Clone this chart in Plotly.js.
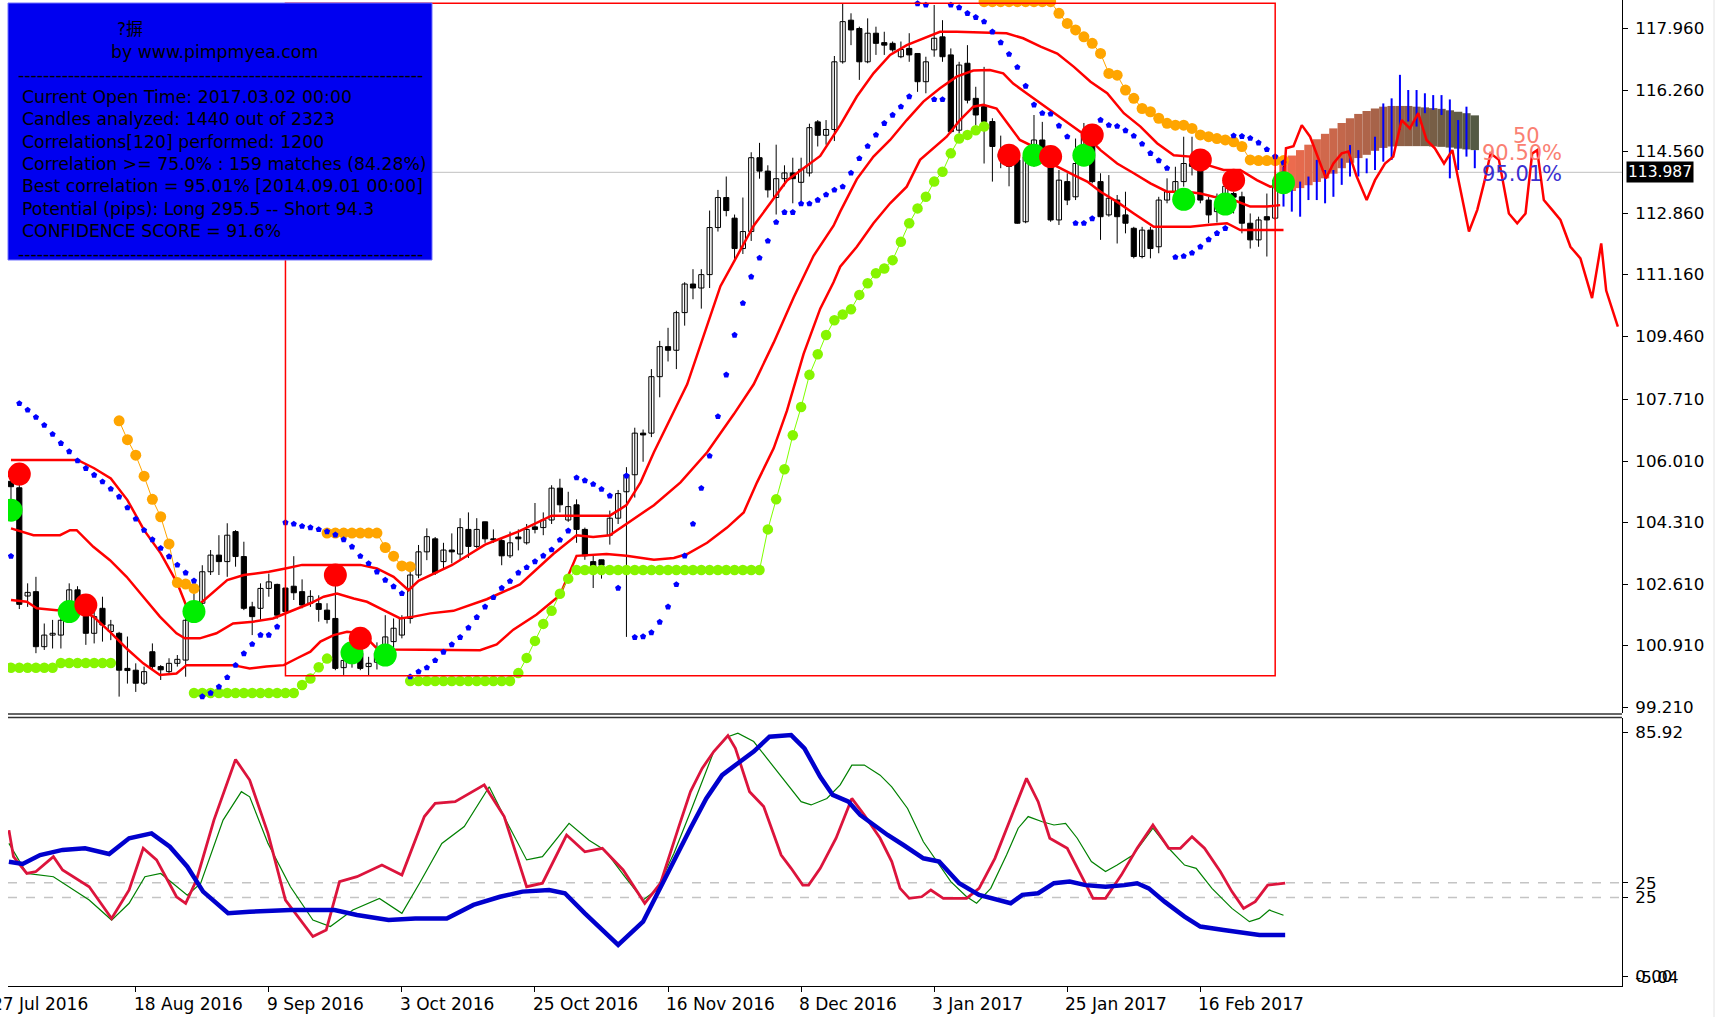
<!DOCTYPE html>
<html><head><meta charset="utf-8">
<script src="https://cdn.plot.ly/plotly-3.0.1.min.js"></script>
<style>html,body{margin:0;padding:0;background:#fff;}#chart{width:1719px;height:1017px;}</style>
</head><body><div id="chart"></div>
<script>
// ---------- DATA (USDJPY daily, bar index 0 = 27 Jul 2016) ----------
const openP = [104.70,105.45,105.27,102.28,102.40,100.88,101.20,101.20,101.85,102.45,
101.75,101.25,101.94,101.30,101.25,100.28,100.23,99.87,100.74,100.33,
100.19,100.42,100.51,101.75,102.08,102.95,103.41,103.23,104.06,103.37,
101.98,101.94,102.49,102.60,102.50,102.55,102.40,102.08,102.07,101.89,
101.66,100.30,100.50,100.70,100.33,100.45,100.70,101.02,101.20,101.66,
102.86,103.50,103.86,103.23,103.55,103.44,104.12,103.65,104.33,103.86,
103.81,103.39,103.91,103.75,104.19,104.17,104.38,105.26,104.38,104.80,
104.12,103.23,103.28,103.96,104.43,105.16,105.63,106.78,106.78,108.34,
109.17,109.07,110.11,110.90,110.79,111.16,112.46,113.29,112.72,111.88,
112.35,114.39,114.02,113.29,113.81,113.97,113.71,113.97,115.38,115.01,
115.17,117.04,118.19,117.96,117.04,117.83,117.57,117.55,117.18,117.41,
117.27,116.49,117.37,117.73,117.23,115.15,117.00,116.03,115.80,115.39,
114.50,114.40,114.33,112.62,114.42,114.88,114.42,112.67,113.73,113.31,
114.45,114.88,113.73,112.81,113.22,112.81,112.44,111.66,112.39,111.93,
113.22,113.45,113.73,114.23,114.23,113.22,112.90,113.10,113.40,113.31,
112.58,112.12,112.76,112.72,113.75];
const highP = [106.10,105.60,105.60,102.63,102.81,101.52,101.62,101.89,102.63,102.55,
101.89,101.89,102.26,101.62,101.29,101.16,100.42,100.33,100.97,100.37,
100.56,100.65,101.98,102.35,103.13,103.55,103.96,104.29,104.10,103.78,
102.12,102.63,102.90,102.62,102.60,103.38,102.74,102.44,102.30,102.08,
102.79,100.88,101.20,101.00,100.60,101.00,101.75,101.66,101.75,102.95,
103.69,104.15,103.91,103.75,104.01,104.43,104.59,104.43,104.33,104.12,
103.91,104.06,104.12,104.27,104.85,104.59,105.34,105.52,105.16,104.95,
104.17,103.44,103.28,104.64,105.21,105.84,106.93,106.88,108.55,109.33,
109.69,110.16,110.95,111.31,111.31,112.93,113.50,113.87,112.82,113.29,
114.54,114.80,114.18,114.75,114.18,114.39,114.39,115.33,115.43,115.43,
117.20,118.66,118.38,118.01,118.24,118.01,117.87,117.60,117.60,117.83,
117.27,117.18,118.61,118.19,117.41,117.04,117.50,116.35,116.90,115.48,
115.00,114.55,114.42,114.51,115.57,115.38,114.51,114.05,113.96,114.92,
115.35,115.20,113.96,113.91,113.36,113.45,112.48,112.48,112.48,113.31,
113.82,114.14,114.97,114.97,114.33,113.31,113.40,113.80,113.45,113.45,
112.85,112.76,113.40,114.05,114.20];
const lowP = [104.55,104.65,101.92,101.98,100.70,100.79,100.83,100.83,101.70,101.80,
100.93,100.97,101.02,101.06,99.50,99.86,99.63,99.82,100.23,99.96,
100.10,100.33,100.05,101.55,101.71,102.86,102.86,102.81,103.09,101.89,
101.20,101.62,102.26,101.65,101.75,102.17,101.94,101.98,101.57,101.52,
100.23,100.10,100.30,100.23,100.08,100.25,100.60,100.83,101.11,101.52,
102.77,103.27,102.86,103.02,103.18,103.28,103.33,103.60,103.75,103.75,
103.13,103.33,103.54,103.70,104.01,103.96,104.27,104.59,104.33,103.75,
103.28,102.50,102.76,103.70,104.27,101.15,105.00,105.99,106.67,107.77,
108.76,108.55,109.75,110.48,110.22,110.79,112.35,112.77,111.52,111.73,
112.09,113.81,113.29,112.82,113.60,113.13,113.13,113.87,114.70,114.75,
114.85,116.99,117.50,116.54,117.00,117.23,117.23,117.32,117.14,117.04,
116.21,116.17,117.18,117.04,115.06,115.06,115.89,115.29,114.23,113.73,
114.10,113.60,112.57,112.58,114.14,114.33,112.62,112.53,113.08,113.22,
114.30,113.68,112.12,112.76,112.02,112.30,111.61,111.61,111.61,111.75,
113.13,113.13,113.59,113.90,113.13,112.58,112.60,112.90,112.85,112.30,
111.88,111.93,111.66,112.67,113.70];
const closeP = [105.45,105.30,102.05,102.38,100.88,101.20,101.25,101.61,102.45,101.95,
101.25,101.71,101.48,101.48,100.23,100.22,99.87,100.19,100.33,100.24,
100.42,100.53,101.61,102.05,102.95,103.41,103.23,103.96,103.37,101.94,
101.71,102.49,102.67,101.75,101.85,102.37,102.03,102.27,101.91,101.63,
100.28,100.50,100.99,100.28,100.42,100.70,101.15,101.39,101.66,102.86,
103.50,103.92,102.92,103.55,103.50,104.17,103.65,104.12,103.86,103.83,
103.39,103.75,103.86,104.12,104.12,104.38,105.26,104.80,104.75,104.12,
103.39,103.07,103.13,104.43,105.11,105.63,106.78,106.73,108.34,109.17,
109.07,110.11,110.90,110.79,111.16,112.46,113.29,112.93,111.88,112.35,
114.39,114.02,113.50,113.81,113.97,113.81,114.07,115.22,115.01,115.17,
117.04,118.15,117.92,117.04,117.83,117.55,117.50,117.37,117.38,117.23,
116.49,117.04,117.69,117.18,115.11,116.95,115.98,115.57,115.39,114.70,
114.40,114.15,112.58,114.42,114.88,114.50,112.67,113.77,113.22,114.23,
115.05,113.73,112.76,113.27,112.76,112.58,111.66,112.39,111.88,113.22,
113.45,113.73,114.23,114.15,113.22,112.81,113.10,113.60,113.30,112.58,
112.12,112.67,112.67,113.77,113.987];

const dateTickBars = [0,16,32,48,64,80,96,112,128,144];
const dateLabels = ['27 Jul 2016','18 Aug 2016','9 Sep 2016','3 Oct 2016','25 Oct 2016','16 Nov 2016','8 Dec 2016','3 Jan 2017','25 Jan 2017','16 Feb 2017'];
const priceTicks = [117.96,116.26,114.56,112.86,111.16,109.46,107.71,106.01,104.31,102.61,100.91,99.21];
const bidPrice = 113.987;
const windowStart = 34, windowEnd = 153;

const bandUpX = [1,9,11,13,15,17,19,21,22,23,24,27,29,32,34,36,43,45,47,48.8,50,54,58,62,66,73,75,76.7,78.3,82.3,86.3,90.3,94.3,98.3,100.7,102.7,104.7,106.7,108.7,110.7,112.7,114.7,116.7,118.7,120.7,122.7,124.8,126.8,128.8,130.8,132.8,134.8,136.8,138.8,140.8,142.8,144.8,146.8,148.8,150.8,152.4,153.6];
const bandUpY = [106.04,106.04,105.81,105.53,104.93,104.10,103.46,102.63,102.05,101.98,102.12,102.72,102.86,102.95,103.04,103.14,103.14,103.04,102.81,102.44,102.70,103.13,103.70,104.06,104.50,104.50,104.79,105.42,106.25,108.13,110.84,112.51,113.76,114.44,115.29,116.08,116.72,117.23,117.50,117.69,117.87,117.87,117.85,117.83,117.83,117.69,117.46,117.27,116.90,116.49,116.17,115.62,115.25,114.79,114.46,114.42,114.19,114.05,114.05,113.77,113.59,113.63];
const bandMidX = [1,3.7,6.9,8.1,8.9,10.9,12.9,14.9,16.9,18.9,20.9,21.9,23.7,25.7,27.7,30.1,32.5,34.6,37,38.6,40.2,42.2,43.8,45.8,47.8,49.4,51.4,54.2,58.2,62.2,66.2,69,71,73,75,78.3,81.5,84.7,87.9,90.3,92.7,95.1,97.5,99.9,100.7,102.7,104.7,106.7,108.7,110.7,112.7,114.7,116.7,118.7,120.3,121.5,123.1,124.8,126.4,128.8,130.4,132,134,136,138,140,142.4,144,145.6,148,150,152,153.6];
const bandMidY = [104.15,103.96,103.96,104.10,104.10,103.64,103.27,102.81,102.26,101.71,101.25,101.11,101.11,101.25,101.52,101.57,101.66,101.85,102.08,102.26,102.35,102.21,102.12,101.89,101.66,101.71,101.80,101.87,102.19,102.60,103.44,103.96,103.91,103.96,104.27,104.79,105.42,106.25,107.30,108.13,109.28,110.53,111.68,112.51,112.90,113.80,114.42,114.88,115.43,115.94,116.31,116.63,116.80,116.81,116.72,116.44,116.17,115.89,115.62,115.25,114.97,114.60,114.23,113.96,113.68,113.45,113.45,113.40,113.31,113.22,113.04,113.04,113.08];
const bandLowX = [1,2.9,4.1,6.5,8.9,10.9,12.9,14.9,16.9,18.9,20.9,22.1,27.7,29.7,31.7,33.8,35.4,37,38.2,39.8,41.4,43,43.8,45,47,51.4,57.4,59.4,61.4,64.2,67,69,72.6,75,78.3,80.7,82.3,84.7,87.1,89.1,90.7,92.7,94.3,96.3,98.3,99.9,100.7,102.7,104.7,106.7,108.7,110.3,111.9,113.5,115.1,116.7,117.9,119.5,121.1,122.3,124,126.4,128.8,130.4,132,134,136,138.4,140.8,142.8,144.8,147.2,148.8,154];
const bandLowY = [102.17,102.12,101.94,101.89,101.94,101.71,101.29,100.83,100.42,100.10,100.14,100.37,100.37,100.28,100.33,100.37,100.56,100.74,101.02,101.20,101.29,101.25,101.11,100.83,100.80,100.80,100.78,100.94,101.35,101.77,102.30,103.39,103.44,103.39,103.28,103.33,103.44,103.75,104.17,104.59,105.42,106.36,107.40,108.97,110.22,110.95,111.38,111.93,112.58,113.13,113.59,114.33,114.65,114.97,115.43,115.80,115.85,115.75,115.25,114.88,114.69,114.19,113.91,113.73,113.45,113.17,112.85,112.48,112.48,112.48,112.53,112.58,112.39,112.39];

const sarP = [103.10,103.38,107.60,107.42,107.22,107.00,106.75,106.50,106.27,106.02,
105.81,105.62,105.44,105.24,105.02,104.72,104.41,104.10,103.84,103.60,
103.37,103.14,102.92,102.70,99.50,99.60,99.77,100.03,100.37,100.69,
100.95,101.20,101.20,101.43,104.31,104.27,104.21,104.17,104.12,104.06,
103.97,103.84,103.64,103.38,103.18,102.95,102.72,102.54,102.35,100.05,
100.19,100.30,100.50,100.73,100.94,101.14,101.40,101.69,101.98,102.24,
102.50,102.69,102.92,103.07,103.23,103.39,103.56,103.83,104.08,105.55,
105.47,105.37,105.23,105.05,102.50,105.60,101.14,101.16,101.27,101.56,
101.98,102.60,103.39,104.27,105.26,106.15,107.24,108.39,109.49,110.37,
111.10,111.62,112.09,112.61,112.88,112.88,113.12,113.12,113.22,113.37,
113.50,113.59,113.97,114.37,114.71,115.02,115.34,115.57,115.80,116.08,
118.65,118.61,116.00,116.00,118.61,118.54,118.38,118.27,118.15,117.87,
117.57,117.25,116.89,116.37,115.85,115.62,115.60,115.27,114.97,112.58,
112.58,112.71,115.43,115.29,115.26,115.14,114.99,114.77,114.51,114.31,
114.10,111.64,111.67,111.76,111.93,112.13,112.30,112.44,115.00,114.98,
114.93,114.80,114.62,114.42,114.25];

const limeStop = [100.30,100.30,100.30,100.30,100.30,100.30,100.30,100.43,100.43,100.43,
100.43,100.43,100.43,100.43,null,null,null,null,null,null,
null,null,null,99.60,99.60,99.60,99.60,99.60,99.60,99.60,
99.60,99.60,99.60,99.60,99.60,99.60,99.82,100.00,100.31,100.55,
null,null,null,null,null,null,null,null,null,99.93,
99.93,99.93,99.93,99.93,99.93,99.93,99.93,99.93,99.93,99.93,
99.93,99.93,100.15,100.57,101.04,101.51,101.87,102.34,102.76,103.00,
103.00,103.00,103.00,103.00,103.00,103.00,103.00,103.00,103.00,103.00,
103.00,103.00,103.00,103.00,103.00,103.00,103.00,103.00,103.00,103.00,
103.00,103.00,104.12,104.95,105.78,106.72,107.50,108.39,108.96,109.49,
109.90,110.06,110.20,110.60,110.92,111.20,111.33,111.56,112.07,112.58,
112.99,113.31,113.73,114.00,114.51,114.92,115.02,115.15,115.25,null,
null,null,null,null,null,null,null,null,null,null,
null,null,null,null,null,null,null,null,null,null,
null,null,null,null,null,null,null,null,null,null,
null,null,null,null,null];
const orangeStop = [null,null,null,null,null,null,null,null,null,null,
null,null,null,null,107.12,106.60,106.17,105.59,104.95,104.47,
103.72,102.65,102.61,102.49,null,null,null,null,null,null,
null,null,null,null,null,null,null,null,null,104.02,
104.02,104.02,104.02,104.02,104.02,104.02,103.62,103.38,103.11,103.09,
null,null,null,null,null,null,null,null,null,null,
null,null,null,null,null,null,null,null,null,null,
null,null,null,null,null,null,null,null,null,null,
null,null,null,null,null,null,null,null,null,null,
null,null,null,null,null,null,null,null,null,null,
null,null,null,null,null,null,null,null,null,null,
null,null,null,null,null,null,null,null,118.70,118.70,
118.70,118.70,118.70,118.70,118.70,118.70,118.70,118.38,118.10,117.92,
117.73,117.55,117.27,116.72,116.67,116.26,116.03,115.75,115.66,115.48,
115.34,115.29,115.29,115.20,115.02,114.97,114.92,114.88,114.83,114.70,
114.33,114.31,114.31,114.31,114.31];

const sigRedX = [2,10,40,43,121,126,131,144,148];
const sigRedY = [105.65,102.03,102.86,101.11,114.46,114.42,115.02,114.33,113.77];
const sigGreenX = [1,8,23,42,46,124,130,142,147,154];
const sigGreenY = [104.65,101.85,101.85,100.71,100.65,114.46,114.46,113.24,113.11,113.70];

const projBarX = [154,155,156,157,158,159,160,161,162,163,164,165,166,167,168,169,170,171,172,173,174,175,176,177];
const projBarHi = [114.14,113.68,113.73,113.87,114.33,114.05,114.05,114.37,114.74,114.60,114.37,114.97,115.89,116.03,116.68,116.26,116.26,116.17,116.12,116.12,116.00,115.43,115.80,114.60];
const projBarLo = [113.04,112.90,112.76,113.22,113.22,113.13,113.31,113.64,113.87,113.87,113.96,114.05,114.28,114.33,115.16,115.39,115.25,115.62,115.71,115.57,113.82,114.05,114.42,114.10];
const projBandHi = [114.33,114.45,114.60,114.75,114.90,115.05,115.20,115.35,115.48,115.60,115.68,115.75,115.80,115.82,115.82,115.82,115.80,115.78,115.76,115.74,115.70,115.66,115.62,115.56];
const projBandLo = [113.40,113.47,113.55,113.63,113.72,113.82,113.95,114.10,114.25,114.38,114.47,114.58,114.66,114.70,114.71,114.71,114.71,114.71,114.70,114.69,114.67,114.64,114.62,114.60];
const projLineX = [154,154.3,155.2,156.2,157.2,158.2,159.1,160,161,161.8,162.8,164,165,166.2,167.2,168.2,169.2,170.2,171.2,172.2,173.3,174.3,175.3,176.3,177.3,178.1,178.9,179.9,181.1,182.1,183.1,183.9,184.5,185.3,186.3,187.3,188.5,189.7,191.1,192.2,192.8,194.2];
const projLineY = [113.62,114.65,114.71,115.29,114.97,114.37,113.82,114.23,114.51,114.56,113.87,113.22,113.77,114.23,114.42,115.43,115.20,115.62,114.88,114.65,114.23,114.60,113.50,112.35,112.95,113.68,114.51,114.33,112.85,112.58,112.85,114.51,114.60,113.22,112.95,112.67,111.93,111.61,110.51,112.02,110.72,109.72];

const lowRedX = [0.75,1.3,2.9,4.0,6.1,7.2,10.4,13.1,15.2,16.9,18.5,20.9,22,23.3,25.4,28.0,29.7,31.9,34.0,37.3,38.9,40.5,42.6,45.6,48,50.7,52,54.4,57.9,60.3,63,64.9,67.8,70,72.1,74.6,77.2,79.1,81.3,82.7,84.1,85.5,87.2,88.1,89.8,91.5,93.6,94.8,96.2,96.9,98.3,100.2,102.1,103.6,105.5,106.9,107.9,109.0,110.5,111.6,113.1,115.9,117.4,119.3,121.2,123.1,124.5,125.9,128.0,129.7,131.1,132.6,134.5,136.4,138.3,140.2,141.6,143.0,144.5,146.4,147.8,149.2,150.6,152.1,154.2];
const lowRedY = [49.7,39.9,33.7,34.4,39.9,35.0,28.8,17.1,27.6,43.0,38.7,25.1,22.7,31.3,53.4,75.8,68.2,48.5,23.9,10.4,12.8,30.7,32.5,36.8,33.1,54.7,59.6,60.2,66.4,54.7,28.8,30.1,47.9,41.7,43.0,35.0,22.7,30.1,51.0,63.9,72.5,78.7,84.6,79.9,63.9,58.4,40.5,35.6,29.4,29.4,35.6,46.7,61.4,55.3,46.7,38.1,28.2,24.5,25.1,27.6,24.5,24.5,28.2,39.3,54.1,68.8,60.2,46.7,43.0,33.1,24.5,24.5,33.1,43.0,51.6,43.0,43.0,47.3,43.0,34.4,27.0,20.8,23.3,29.4,30.1];
const lowGreenX = [0.75,2.9,6.1,10.4,13.1,15.2,17.1,19.0,22.2,23.8,26.5,28.7,29.7,31.9,34.6,37.3,39.4,42.1,45.3,48,50.1,52.8,55.5,58.5,60.9,63.0,64.9,68.1,70.5,72.4,74.8,77.0,78.6,80.7,82.7,84.1,85.5,87.2,88.4,90.3,92.2,94.1,96.0,97.2,99.1,100.7,102.1,103.6,105.5,106.9,108.8,110.7,112.1,114.0,115.9,117.1,118.8,120.7,122.1,123.3,125.0,126.4,127.8,129.2,130.9,132.6,134.0,135.9,138.3,140.2,142.1,143.5,145.4,147.8,149.9,151.1,152.3,154.0];
const lowGreenY = [44.8,33.7,32.5,23.9,16.5,22.7,32.5,33.7,25.7,30.0,53.4,63.9,62.0,44.8,28.8,16.5,14.1,20.2,24.5,19.0,30.0,44.8,51.0,65.7,51.0,38.7,39.9,52.2,46.0,42.3,32.5,23.9,27.6,41.1,56.5,67.6,78.7,84.2,85.5,82.4,75.0,67.6,60.2,59.0,61.4,66.4,73.7,73.7,70.0,65.7,57.7,45.4,39.3,30.7,25.1,22.7,28.2,40.5,50.4,54.7,52.8,51.6,52.2,46.7,38.1,34.4,36.8,40.5,50.4,43.0,36.8,35.6,28.2,20.8,15.9,17.1,20.2,18.3];
const lowBlueX = [0.75,2.4,4.5,7.2,9.9,12.8,15.2,17.9,20.1,22.2,24.1,27.1,29.7,34.6,39.9,42.6,46.4,49.6,53.4,56.6,59.8,62.5,65.7,67.6,70.0,74.0,77.0,78.9,81.8,82.7,84.6,86.5,88.4,90.3,92.2,94.8,96.4,98.3,99.8,101.7,103.1,106.4,108.3,110.7,112.6,115.0,117.4,119.7,121.2,122.6,124.5,126.4,128.3,130.2,132.6,134.9,136.4,137.8,139.7,142.1,144.0,146.8,149.2,151.1,154.2];
const lowBlueY = [38.0,37.2,40.5,42.4,43.0,40.9,46.7,48.5,43.6,36.2,27.0,19.0,19.6,20.2,20.2,18.4,16.5,17.1,17.1,22.1,25.1,27.0,27.6,26.4,19.0,7.3,15.9,27.6,44.8,50.4,61.4,70.0,74.4,78.7,84.2,84.8,79.9,69.4,62.7,60.2,55.3,47.9,44.2,39.3,38.1,30.1,25.8,23.9,22.7,25.8,26.4,30.1,30.7,29.4,28.8,29.4,30.1,28.2,23.3,17.8,14.1,12.8,11.6,11.0,11.0];
const lowLevels = [30.3, 24.8];
const lowTickVals = [85.92, 30.3, 24.8, -4.3, -4.5];
const lowTickText = ['85.92','25','25','0.00','-5.04'];

const infoTitle = '?摒';
const infoSub = 'by www.pimpmyea.com';
const infoLines = ['Current Open Time: 2017.03.02 00:00','Candles analyzed: 1440 out of 2323','Correlations[120] performed: 1200','Correlation >= 75.0% : 159 matches (84.28%)','Best correlation = 95.01% [2014.09.01 00:00]','Potential (pips): Long 295.5 -- Short 94.3','CONFIDENCE SCORE = 91.6%'];
const projLabels = [{t:'50', y:115.00, c:'#FA8072', x:181.3},{t:'90.50%', y:114.53, c:'#FA8072', x:177.6},{t:'95.01%', y:113.93, c:'#3A2FD0', x:177.6}];

// ---------- GEOMETRY ----------
const W = 1719, H = 1017, ML = 8, MR = 97, MT = 0, MB = 31;
const PW = W - ML - MR, PH = H - MT - MB;
const px2x = p => (p - ML) / PW;
const py2y = p => 1 - (p - MT) / PH;
const bar2px = b => 2.7 + 8.315 * b;
const FONT = 'DejaVu Sans, Verdana, sans-serif';

const N = openP.length;
const traces = [];
const wx = [], wy = [];
for (let i = 0; i < N; i++) { wx.push(i, i, null); wy.push(lowP[i], highP[i], null); }
const gA = [243,108,78], gB = [84,90,68];
const bandColors = projBarX.map((_, k) => {
  const t = k / (projBarX.length - 1);
  return 'rgb(' + gA.map((a, j) => Math.round(a + (gB[j] - a) * t)).join(',') + ')';
});
traces.push({type:'bar', x:projBarX, base:projBandLo, y:projBandHi.map((h,k)=>h-projBandLo[k]), width:1,
  marker:{color:bandColors, line:{width:0}}, xaxis:'x', yaxis:'y', hoverinfo:'skip'});
traces.push({type:'scatter', mode:'lines', x:wx, y:wy, line:{color:'#000', width:1}, xaxis:'x', yaxis:'y', hoverinfo:'skip'});
const upX=[],upB=[],upH=[],dnX=[],dnB=[],dnH=[];
for (let i = 0; i < N; i++) {
  const b = Math.min(openP[i], closeP[i]);
  const h = Math.max(Math.abs(closeP[i] - openP[i]), 0.03);
  if (closeP[i] >= openP[i]) { upX.push(i); upB.push(b); upH.push(h); }
  else { dnX.push(i); dnB.push(b); dnH.push(h); }
}
traces.push({type:'bar', x:upX, base:upB, y:upH, width:0.62, marker:{color:'#fff', line:{color:'#000', width:1}}, xaxis:'x', yaxis:'y', hoverinfo:'skip'});
traces.push({type:'bar', x:dnX, base:dnB, y:dnH, width:0.62, marker:{color:'#000', line:{color:'#000', width:1}}, xaxis:'x', yaxis:'y', hoverinfo:'skip'});
[[bandUpX,bandUpY],[bandMidX,bandMidY],[bandLowX,bandLowY]].forEach(([x,y]) => {
  traces.push({type:'scatter', mode:'lines', x, y, line:{color:'#FF0000', width:2.5}, xaxis:'x', yaxis:'y', hoverinfo:'skip'});
});
const idx = openP.map((_, i) => i);
traces.push({type:'scatter', mode:'lines+markers', x:idx, y:limeStop, connectgaps:false,
  line:{color:'#7FFF00', width:1}, marker:{color:'#86F500', size:10.5}, xaxis:'x', yaxis:'y', hoverinfo:'skip'});
traces.push({type:'scatter', mode:'lines+markers', x:idx, y:orangeStop, connectgaps:false,
  line:{color:'#FFA500', width:1}, marker:{color:'#FFA500', size:11}, xaxis:'x', yaxis:'y', hoverinfo:'skip'});
traces.push({type:'scatter', mode:'markers', x:idx, y:sarP, marker:{color:'#0000FF', size:6.5, symbol:'pentagon'}, xaxis:'x', yaxis:'y', hoverinfo:'skip'});
const pbx = [], pby = [];
projBarX.forEach((x, k) => { pbx.push(x, x, null); pby.push(projBarLo[k], projBarHi[k], null); });
traces.push({type:'scatter', mode:'lines', x:pbx, y:pby, line:{color:'#0000FF', width:2}, xaxis:'x', yaxis:'y', hoverinfo:'skip'});
traces.push({type:'scatter', mode:'lines', x:projLineX, y:projLineY, line:{color:'#FF0000', width:2.5}, xaxis:'x', yaxis:'y', hoverinfo:'skip'});
traces.push({type:'scatter', mode:'markers', x:sigGreenX, y:sigGreenY, marker:{color:'#00EE00', size:23}, xaxis:'x', yaxis:'y', hoverinfo:'skip'});
traces.push({type:'scatter', mode:'markers', x:sigRedX, y:sigRedY, marker:{color:'#FF0000', size:23}, xaxis:'x', yaxis:'y', hoverinfo:'skip'});
traces.push({type:'scatter', mode:'lines', x:lowGreenX, y:lowGreenY, line:{color:'#008000', width:1.2}, xaxis:'x', yaxis:'y2', hoverinfo:'skip'});
traces.push({type:'scatter', mode:'lines', x:lowRedX, y:lowRedY, line:{color:'#DC143C', width:2.8}, xaxis:'x', yaxis:'y2', hoverinfo:'skip'});
traces.push({type:'scatter', mode:'lines', x:lowBlueX, y:lowBlueY, line:{color:'#0000CD', width:4.5}, xaxis:'x', yaxis:'y2', hoverinfo:'skip'});

// ---------- SHAPES ----------
let winHi = -Infinity, winLo = Infinity;
for (let i = windowStart; i <= windowEnd; i++) { winHi = Math.max(winHi, highP[i]); winLo = Math.min(winLo, lowP[i]); }
const shapes = [
  {type:'line', xref:'paper', yref:'y', x0:0, x1:1, y0:bidPrice, y1:bidPrice, line:{color:'#C0C0C0', width:1}, layer:'below'},
  {type:'rect', xref:'x', yref:'y', x0:windowStart, x1:windowEnd, y0:winLo, y1:winHi, line:{color:'#FF0000', width:1.5}, layer:'above'},
  {type:'rect', xref:'paper', yref:'paper', x0:px2x(8), x1:px2x(432), y0:py2y(260), y1:py2y(3), fillcolor:'#0000F0', line:{color:'#7070FF', width:1}, layer:'above'},
  {type:'line', xref:'paper', yref:'paper', x0:0, x1:1, y0:py2y(714), y1:py2y(714), line:{color:'#333', width:1.5}},
  {type:'line', xref:'paper', yref:'paper', x0:0, x1:1, y0:py2y(717.5), y1:py2y(717.5), line:{color:'#333', width:1.5}},
  {type:'line', xref:'paper', yref:'paper', x0:px2x(1714), x1:px2x(1714), y0:py2y(0), y1:py2y(1017), line:{color:'#E4E4E4', width:1}}
];
lowLevels.forEach(v => shapes.push({type:'line', xref:'paper', yref:'y2', x0:0, x1:1, y0:v, y1:v, line:{color:'#C4C4C4', width:1.5, dash:'dash'}, layer:'below'}));

// ---------- ANNOTATIONS ----------
const ann = [];
const tf = {family:FONT, size:17.3, color:'#000'};
ann.push({xref:'paper', yref:'paper', x:px2x(130), y:py2y(29), text:infoTitle, showarrow:false, xanchor:'center', yanchor:'middle', font:{family:'DejaVu Sans, Noto Sans CJK SC', size:17, color:'#000'}});
ann.push({xref:'paper', yref:'paper', x:px2x(214), y:py2y(52), text:infoSub, showarrow:false, xanchor:'center', yanchor:'middle', font:tf});
ann.push({xref:'paper', yref:'paper', x:px2x(16), y:py2y(75), text:'-'.repeat(65), showarrow:false, xanchor:'left', yanchor:'middle', font:tf});
infoLines.forEach((t, k) => ann.push({xref:'paper', yref:'paper', x:px2x(20), y:py2y(97 + k * 22.3), text:t, showarrow:false, xanchor:'left', yanchor:'middle', font:tf}));
ann.push({xref:'paper', yref:'paper', x:px2x(16), y:py2y(254), text:'-'.repeat(65), showarrow:false, xanchor:'left', yanchor:'middle', font:tf});
dateTickBars.forEach((b, k) => ann.push({xref:'paper', yref:'paper', x:px2x(bar2px(b) + (k === 0 ? -13 : -4)), y:py2y(1004), text:dateLabels[k], showarrow:false,
  xanchor:'left', yanchor:'middle', font:{family:FONT, size:17, color:'#000'}}));
projLabels.forEach(p => ann.push({xref:'x', yref:'y', x:p.x, y:p.y, text:p.t, showarrow:false, xanchor:'left', yanchor:'middle', font:{family:FONT, size:21, color:p.c}}));
ann.push({xref:'paper', yref:'y', x:1, y:bidPrice, text:bidPrice.toFixed(3), showarrow:false, xanchor:'left', yanchor:'middle', xshift:4,
  bgcolor:'#000', borderpad:1, font:{family:FONT, size:15.5, color:'#fff'}});

const layout = {
  width:W, height:H, margin:{l:ML, r:MR, t:MT, b:MB, pad:0},
  paper_bgcolor:'#fff', plot_bgcolor:'#fff', showlegend:false, barmode:'overlay', hovermode:false,
  font:{family:FONT, size:16, color:'#000'},
  xaxis:{range:[0.64,194.7], domain:[0,1], anchor:'y2', showgrid:false, zeroline:false, showline:true, linecolor:'#000', linewidth:1,
    ticks:'outside', ticklen:5, tickcolor:'#000', tickvals:dateTickBars, showticklabels:false, fixedrange:true},
  yaxis:{domain:[py2y(713),1], range:[99.0475,118.7475], side:'right', anchor:'x', showgrid:false, zeroline:false, showline:true,
    linecolor:'#000', linewidth:1, ticks:'outside', ticklen:5, tickcolor:'#000', tickvals:priceTicks, ticktext:priceTicks.map(v=>v.toFixed(3)),
    tickfont:{family:FONT, size:16.7, color:'#000'}, ticklabelstandoff:4, fixedrange:true},
  yaxis2:{domain:[0,py2y(718)], range:[-7.84,91.09], side:'right', anchor:'x', showgrid:false, zeroline:false, showline:true,
    linecolor:'#000', linewidth:1, ticks:'outside', ticklen:5, tickcolor:'#000', tickvals:lowTickVals, ticktext:lowTickText,
    tickfont:{family:FONT, size:16.7, color:'#000'}, ticklabelstandoff:4, fixedrange:true},
  shapes, annotations:ann
};
Plotly.newPlot('chart', traces, layout, {staticPlot:true, displayModeBar:false});
</script></body></html>
